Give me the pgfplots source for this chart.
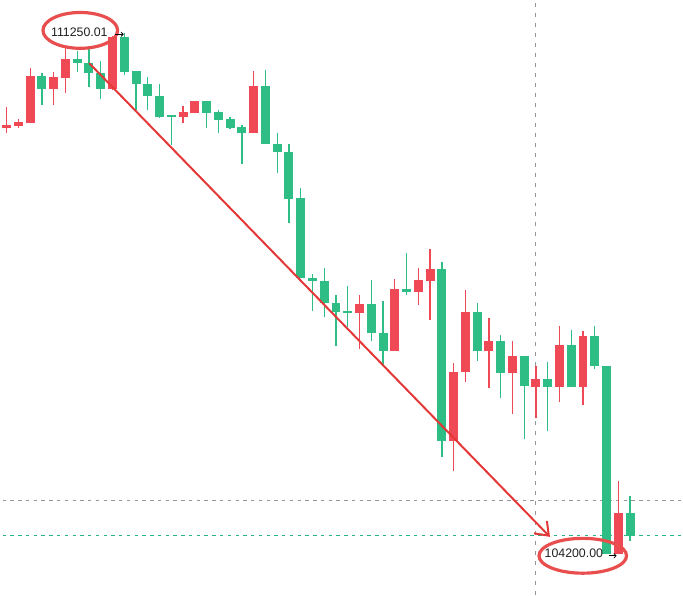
\documentclass[border=0pt]{standalone}
\usepackage{fontspec}
\setmainfont{Liberation Sans}
\usepackage{pgfplots}
\usepackage{pgfplotstable}
\pgfplotsset{compat=1.18}
\usetikzlibrary{arrows.meta}
\definecolor{cgreen}{RGB}{46,189,133}
\definecolor{cred}{RGB}{240,73,86}
\definecolor{cline}{RGB}{228,55,55}
\definecolor{cell}{RGB}{232,78,78}
\definecolor{cdash}{RGB}{150,150,150}
\definecolor{cteal}{RGB}{40,180,130}

% down candles (close < open), drawn green
\pgfplotstableread{
i o h l c
3 110670 110711 110279 110495
6 110900 111007 110724 110846
7 110846 111034 110522 110711
8 110711 110873 110360 110495
10 111196 111250.01 110684 110724
11 110738 110738 110212 110563
12 110563 110657 110212 110401
13 110401 110563 110100 110118
14 110131 110131 109740 110118
17 110333 110340 109969 110172
18 110185 110212 109902 110077
19 110091 110118 109960 109969
20 109983 110010 109484 109902
22 110536 110751 109754 109754
23 109754 109902 109363 109646
24 109646 109754 108675 109012
25 109026 109161 107934 107934
26 107934 107988 107489 107893
27 107893 108069 107408 107597
28 107597 107705 107017 107476
29 107489 107826 107273 107462
31 107583 107907 107085 107192
32 107192 107624 106748 106950
34 107786 108271 107705 107745
37 108055 108150 105508 105723
40 107476 107597 106815 106950
42 107085 107166 106316 106653
44 106883 106883 105750 106478
46 106572 106802 105858 106465
48 107031 107233 106465 106465
50 107152 107287 106707 106748
51 106748 106748 104200 104200
53 104753 104982 104375 104443
}\greentab

% up candles (close > open), drawn red
\pgfplotstableread{
i o h l c
0 109969 110252 109902 110010
1 109996 110091 109969 110050
2 110037 110778 110037 110670
4 110495 110724 110279 110657
5 110643 111048 110441 110900
9 110495 111210 110480 111196
15 110118 110266 110037 110185
16 110172 110340 110165 110333
21 109902 110738 109902 110536
30 107462 107705 106977 107583
33 106950 107920 106950 107786
35 107745 108069 107570 107907
36 107893 108325 107368 108055
38 105723 106788 105319 106667
39 106667 107772 106532 107476
41 106950 107395 106451 107085
43 106653 107085 106087 106883
45 106465 106748 106033 106572
47 106465 107287 106262 107031
49 106465 107220 106222 107152
52 104200 105184 104200 104753
}\redtab

\begin{document}
\begin{tikzpicture}
\begin{axis}[
  scale only axis, width=341.5pt, height=298.5pt,
  xmin=-0.338, xmax=57.445, ymin=103647, ymax=111695,
  hide axis, clip=false,
  candle/.style={draw=none, fill=none, no markers, forget plot},
]
\path (rel axis cs:0,0) rectangle (rel axis cs:1,1);
% reference lines
\draw[cdash, line width=0.5pt, dash pattern=on 2pt off 3pt] (axis cs:45,103647) -- (axis cs:45,111695);
\draw[cdash, line width=0.5pt, dash pattern=on 1.7pt off 2.2pt] (axis cs:-0.338,104928) -- (axis cs:57.445,104928);
\draw[cteal, line width=0.65pt, dash pattern=on 1.7pt off 2.2pt] (axis cs:-0.338,104443) -- (axis cs:57.445,104443);

% wicks
\addplot[candle, error bars/.cd, y dir=plus, y explicit, error mark=none,
  error bar style={line width=0.65pt, draw=cgreen}]
  table[x=i, y=l, y error plus expr={\thisrow{h}-\thisrow{l}}] {\greentab};
\addplot[candle, error bars/.cd, y dir=plus, y explicit, error mark=none,
  error bar style={line width=0.65pt, draw=cred}]
  table[x=i, y=l, y error plus expr={\thisrow{h}-\thisrow{l}}] {\redtab};
% bodies
\addplot[candle, error bars/.cd, y dir=plus, y explicit, error mark=none,
  error bar style={line width=4.5pt, draw=cgreen}]
  table[x=i, y=c, y error plus expr={max(\thisrow{o}-\thisrow{c},20)}] {\greentab};
\addplot[candle, error bars/.cd, y dir=plus, y explicit, error mark=none,
  error bar style={line width=4.5pt, draw=cred}]
  table[x=i, y=o, y error plus expr={max(\thisrow{c}-\thisrow{o},20)}] {\redtab};

% trend arrow
\draw[cline, line width=1pt, -{Straight Barb[length=6pt,width=9pt]}] (axis cs:7.02,110846) -- (axis cs:46.19,104429);

% annotations
\draw[cell, line width=1.6pt] (axis cs:6.26,111290) ellipse [x radius=18.75pt, y radius=9pt];
\node[text=black!88, font=\fontsize{6.2}{7}\selectfont, inner sep=0pt] at (axis cs:6.18,111270) {111250.01};
\draw[black, line width=0.4pt, -{To[length=1.5pt,width=2.5pt]}] (axis cs:9.22,111237) -- (axis cs:9.95,111237);

\draw[cell, line width=1.6pt] (axis cs:48.98,104173) ellipse [x radius=22pt, y radius=8.75pt];
\node[text=black!88, font=\fontsize{6.2}{7}\selectfont, inner sep=0pt] at (axis cs:48.22,104207) {104200.00};
\draw[black, line width=0.4pt, -{To[length=1.5pt,width=2.5pt]}] (axis cs:51.18,104173) -- (axis cs:51.85,104173);
\end{axis}
\end{tikzpicture}
\end{document}
